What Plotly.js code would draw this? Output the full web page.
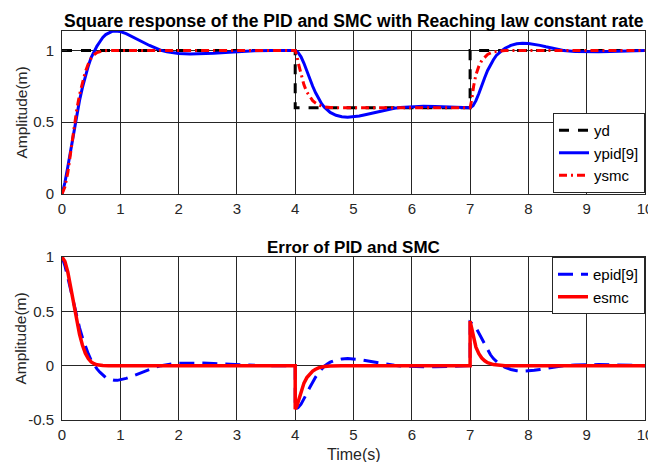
<!DOCTYPE html>
<html>
<head>
<meta charset="utf-8">
<script src="https://cdn.plot.ly/plotly-3.0.1.min.js"></script>
<style>html,body{margin:0;padding:0;background:#fff;}#chart{width:648px;height:462px;}</style>
</head>
<body>
<div id="chart"></div>
<script>
// ---- Data ----
var tYd = [0, 4, 4, 7, 7, 10];
var yd  = [1, 1, 0.6, 0.6, 1, 1];

var tPid = [0,0.05,0.1,0.15,0.2,0.25,0.3,0.35,0.4,0.45,0.5,0.55,0.6,0.65,0.7,0.75,0.8,0.85,0.9,0.95,1.0,1.1,1.2,1.3,1.4,1.5,1.6,1.7,1.8,1.9,2.0,2.2,2.4,2.6,2.8,3.0,3.3,3.6,4.0,
  4.05,4.1,4.15,4.2,4.25,4.3,4.35,4.4,4.45,4.5,4.55,4.6,4.7,4.8,4.9,5.0,5.1,5.2,5.3,5.4,5.5,5.6,5.7,5.8,6.0,6.2,6.4,6.6,6.8,7.0,
  7.05,7.1,7.15,7.2,7.25,7.3,7.35,7.4,7.45,7.5,7.55,7.6,7.7,7.8,7.9,8.0,8.1,8.2,8.3,8.4,8.5,8.6,8.8,9.0,9.2,9.4,9.6,9.8,10];
var ypid = [0,0.08,0.19,0.31,0.43,0.54,0.65,0.74,0.82,0.89,0.95,0.995,1.03,1.06,1.09,1.11,1.123,1.131,1.135,1.135,1.131,1.117,1.098,1.077,1.055,1.034,1.015,1.0,0.99,0.983,0.978,0.975,0.976,0.98,0.986,0.992,0.997,1.0,1.0,
  0.985,0.955,0.91,0.855,0.80,0.75,0.705,0.665,0.63,0.605,0.585,0.568,0.548,0.538,0.535,0.537,0.543,0.552,0.562,0.572,0.582,0.59,0.597,0.603,0.609,0.611,0.61,0.607,0.603,0.6,
  0.615,0.65,0.70,0.76,0.81,0.86,0.90,0.935,0.965,0.985,1.0,1.015,1.035,1.046,1.05,1.048,1.043,1.035,1.025,1.015,1.007,1.0,0.993,0.99,0.99,0.992,0.995,0.998,1.0];

var tSmc = [0,0.05,0.1,0.15,0.2,0.25,0.3,0.35,0.4,0.45,0.5,0.55,0.6,0.7,0.8,4.0,
  4.03,4.06,4.1,4.15,4.2,4.25,4.3,4.35,4.4,4.5,4.6,4.8,7.0,
  7.03,7.06,7.1,7.15,7.2,7.25,7.3,7.4,7.5,7.6,10];
var ysmc = [0,0.05,0.15,0.30,0.45,0.58,0.69,0.78,0.85,0.905,0.945,0.97,0.985,0.996,1.0,1.0,
  0.96,0.9,0.83,0.76,0.71,0.675,0.65,0.633,0.62,0.607,0.602,0.6,0.6,
  0.66,0.75,0.83,0.89,0.93,0.955,0.972,0.99,0.997,1.0,1.0];

var tEpid = [0,0.05,0.1,0.15,0.2,0.25,0.3,0.35,0.4,0.45,0.5,0.55,0.6,0.65,0.7,0.75,0.8,0.85,0.9,0.95,1.0,1.1,1.2,1.3,1.4,1.5,1.6,1.7,1.8,1.9,2.0,2.2,2.4,2.6,2.8,3.0,3.3,3.6,4.0,
  4.0,4.05,4.1,4.15,4.2,4.25,4.3,4.35,4.4,4.45,4.5,4.55,4.6,4.7,4.8,4.9,5.0,5.1,5.2,5.3,5.4,5.5,5.6,5.7,5.8,6.0,6.2,6.4,6.6,6.8,7.0,
  7.0,7.05,7.1,7.15,7.2,7.25,7.3,7.35,7.4,7.45,7.5,7.55,7.6,7.7,7.8,7.9,8.0,8.1,8.2,8.3,8.4,8.5,8.6,8.8,9.0,9.2,9.4,9.6,9.8,10];
var epid = [1.0,0.92,0.81,0.69,0.57,0.46,0.35,0.26,0.18,0.11,0.05,0.005,-0.03,-0.06,-0.09,-0.11,-0.123,-0.131,-0.135,-0.135,-0.131,-0.117,-0.098,-0.077,-0.055,-0.034,-0.015,0,0.01,0.017,0.022,0.025,0.024,0.02,0.014,0.008,0.003,0,0,
  -0.40,-0.385,-0.355,-0.31,-0.255,-0.20,-0.15,-0.105,-0.065,-0.03,-0.005,0.015,0.032,0.052,0.062,0.065,0.063,0.057,0.048,0.038,0.028,0.018,0.01,0.003,-0.003,-0.009,-0.011,-0.01,-0.007,-0.003,0,
  0.40,0.385,0.35,0.30,0.24,0.19,0.14,0.10,0.065,0.035,0.015,0,-0.015,-0.035,-0.046,-0.05,-0.048,-0.043,-0.035,-0.025,-0.015,-0.007,0,0.007,0.01,0.01,0.008,0.005,0.002,0];

var tEsmc = [0,0.05,0.1,0.15,0.2,0.25,0.3,0.35,0.4,0.45,0.5,0.55,0.6,0.7,0.8,4.0,
  4.0,4.03,4.06,4.1,4.15,4.2,4.25,4.3,4.35,4.4,4.5,4.6,4.8,7.0,
  7.0,7.03,7.06,7.1,7.15,7.2,7.25,7.3,7.4,7.5,7.6,10];
var esmc = [1.0,0.96,0.86,0.71,0.55,0.41,0.29,0.19,0.115,0.065,0.035,0.018,0.008,0.002,0,0,
  -0.40,-0.37,-0.31,-0.24,-0.16,-0.11,-0.075,-0.05,-0.033,-0.02,-0.008,-0.002,0,0,
  0.41,0.34,0.25,0.17,0.11,0.07,0.045,0.028,0.01,0.003,0,0];

var xTicks = [0,1,2,3,4,5,6,7,8,9,10];
var yTicksTop = [0, 0.5, 1];
var yTicksBot = [-0.5, 0, 0.5, 1];

// ---- Figure ----
var FONT = 'Arial, "Liberation Sans", sans-serif';
var traces = [
  {x: tYd, y: yd, name: 'yd', mode: 'lines', xaxis: 'x', yaxis: 'y', legend: 'legend',
   line: {color: '#000000', width: 3, dash: '10px,9px'}},
  {x: tPid, y: ypid, name: 'ypid[9]', mode: 'lines', xaxis: 'x', yaxis: 'y', legend: 'legend',
   line: {color: '#0000FF', width: 3}},
  {x: tSmc, y: ysmc, name: 'ysmc', mode: 'lines', xaxis: 'x', yaxis: 'y', legend: 'legend',
   line: {color: '#FF0000', width: 3, dash: '8px,4px,2px,4px'}},
  {x: tEpid, y: epid, name: 'epid[9]', mode: 'lines', xaxis: 'x2', yaxis: 'y2', legend: 'legend2',
   line: {color: '#0000FF', width: 3, dash: '15px,8px'}},
  {x: tEsmc, y: esmc, name: 'esmc', mode: 'lines', xaxis: 'x2', yaxis: 'y2', legend: 'legend2',
   line: {color: '#FF0000', width: 3.5}}
];

function xax(anchor) {
  return {anchor: anchor, range: [0, 10], tickvals: xTicks, ticktext: xTicks.map(String),
    showgrid: true, gridcolor: '#262626', gridwidth: 1, zeroline: false,
    showline: true, mirror: true, linecolor: '#262626', linewidth: 1,
    ticks: 'inside', ticklen: 5, tickcolor: '#262626', ticklabelstandoff: 1,
    ticklabeloverflow: 'allow',
    tickfont: {family: FONT, size: 15, color: '#262626'}};
}
function yax(anchor, range, vals, dom) {
  return {anchor: anchor, domain: dom, range: range, tickvals: vals, ticktext: vals.map(String),
    showgrid: true, gridcolor: '#262626', gridwidth: 1, zeroline: false,
    showline: true, mirror: true, linecolor: '#262626', linewidth: 1,
    ticks: 'inside', ticklen: 5, tickcolor: '#262626', ticklabelstandoff: 4,
    tickfont: {family: FONT, size: 15, color: '#262626'}};
}

var layout = {
  width: 648, height: 462,
  margin: {l: 62, r: 3, t: 31, b: 42},
  paper_bgcolor: '#ffffff', plot_bgcolor: '#ffffff',
  font: {family: FONT, size: 15, color: '#262626'},
  xaxis: xax('y'),
  yaxis: yax('x', [0, 1.135], yTicksTop, [0.581, 1]),
  xaxis2: xax('y2'),
  yaxis2: yax('x2', [-0.5, 1], yTicksBot, [0, 0.419]),
  showlegend: true,
  legend: {x: 1, xanchor: 'right', y: 0.5835, yanchor: 'bottom', xref: 'paper', yref: 'paper',
    bgcolor: '#ffffff', bordercolor: '#262626', borderwidth: 1,
    font: {family: FONT, size: 15, color: '#000000'}, tracegroupgap: 0, itemwidth: 30},
  legend2: {x: 1, xanchor: 'right', y: 0.419, yanchor: 'top', xref: 'paper', yref: 'paper',
    bgcolor: '#ffffff', bordercolor: '#262626', borderwidth: 1,
    font: {family: FONT, size: 15, color: '#000000'}, tracegroupgap: 0, itemwidth: 30},
  annotations: [
    {text: '<b>Square response of the PID and SMC with Reaching law constant rate</b>',
     xref: 'paper', yref: 'paper', x: 0.5, y: 1, yshift: 10, xanchor: 'center', yanchor: 'middle',
     showarrow: false, font: {family: FONT, size: 17.5, color: '#000000'}},
    {text: '<b>Error of PID and SMC</b>',
     xref: 'paper', yref: 'paper', x: 0.5, y: 0.419, yshift: 10, xanchor: 'center', yanchor: 'middle',
     showarrow: false, font: {family: FONT, size: 17, color: '#000000'}},
    {text: 'Amplitude(m)', textangle: -90,
     xref: 'paper', yref: 'paper', x: 0, xshift: -41, y: 0.7905, xanchor: 'center', yanchor: 'middle',
     showarrow: false, font: {family: FONT, size: 15.5, color: '#262626'}},
    {text: 'Amplitude(m)', textangle: -90,
     xref: 'paper', yref: 'paper', x: 0, xshift: -41, y: 0.2095, xanchor: 'center', yanchor: 'middle',
     showarrow: false, font: {family: FONT, size: 15.5, color: '#262626'}},
    {text: 'Time(s)',
     xref: 'paper', yref: 'paper', x: 0.5, y: 0, yshift: -34, xanchor: 'center', yanchor: 'middle',
     showarrow: false, font: {family: FONT, size: 16, color: '#262626'}}
  ]
};

Plotly.newPlot('chart', traces, layout, {displayModeBar: false, staticPlot: true});
</script>
</body>
</html>
